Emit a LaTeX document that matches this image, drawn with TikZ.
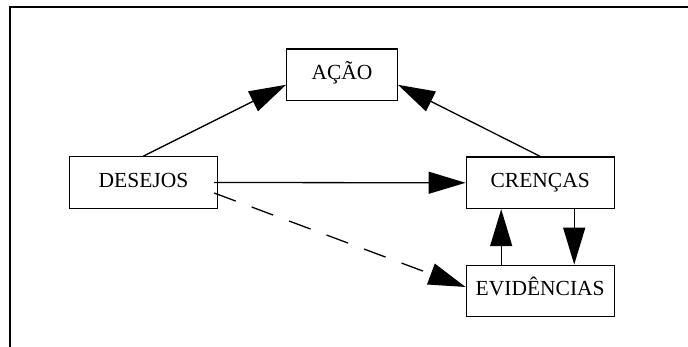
\documentclass[tikz,border=0pt]{standalone}
\usepackage{fontspec}
\setmainfont{Liberation Serif}
\usetikzlibrary{arrows.meta}
\tikzset{box/.style={draw,line width=1.3pt,rectangle,minimum width=148pt,
                     minimum height=51.5pt,inner sep=0pt,
                     font=\fontsize{21.5}{25}\selectfont,
                     text height=1em,text depth=0pt},
         link/.style={draw,line width=1.3pt,-{Triangle[length=37pt,width=22pt]}},
         hint/.style={link,dash pattern=on 23pt off 17pt}}

\begin{document}
\begin{tikzpicture}[x=1pt,y=1pt]
    \useasboundingbox (0,0) rectangle (688,347);
    \draw[line width=2pt] (9.8,0) |- (688,340.3);

    \node[box,minimum width=110.6pt] (acao) at (342,272.2) {AÇÃO};
    \node[box] (desejos) at (143.5,164.5) {DESEJOS};
    \node[box] (crencas) at (540.2,164.2) {CRENÇAS};
    \node[box] (evidencias) at (540.2,56) {EVIDÊNCIAS};

    \draw[link] (desejos.north) -- ([yshift=-10pt]acao.west);
    \draw[link] (crencas.north) -- ([yshift=-10pt]acao.east);
    \draw[link] ([xshift=-4pt]desejos.east) -- (crencas.west);
    \draw[hint] ([shift={(-4pt,-10.5pt)}]desejos.east) -- ([yshift=4pt]evidencias.west);
    \draw[link] ([xshift=-39pt]evidencias.north) -- ([xshift=-39pt]crencas.south);
    \draw[link] ([xshift=34pt]crencas.south) -- ([xshift=34pt]evidencias.north);
\end{tikzpicture}
\end{document}
